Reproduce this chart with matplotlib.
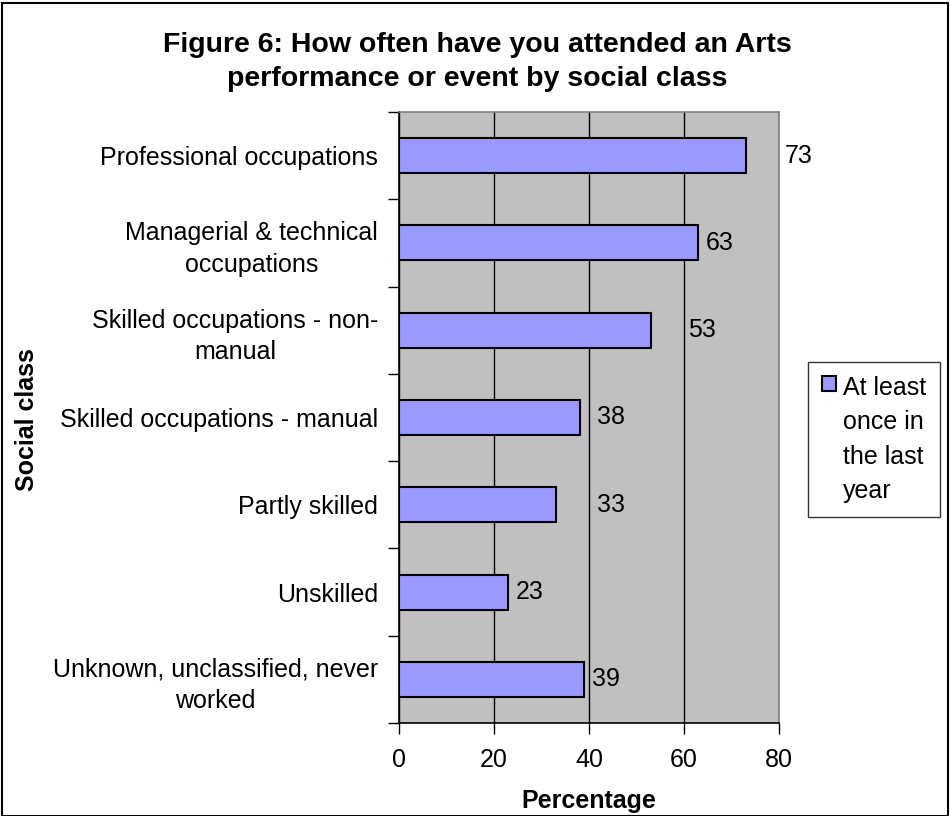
import numpy as np
import matplotlib.pyplot as plt
from matplotlib.patches import Rectangle

plt.rcParams['font.family'] = ['Liberation Sans', 'DejaVu Sans']

# data (top to bottom as shown)
categories = [
    "Professional occupations",
    "Managerial & technical\noccupations",
    "Skilled occupations - non-\nmanual",
    "Skilled occupations - manual",
    "Partly skilled",
    "Unskilled",
    "Unknown, unclassified, never\nworked",
]
values = [73, 63, 53, 38, 33, 23, 39]
series_name = "At least\nonce in\nthe last\nyear"
x_ticks = [0, 20, 40, 60, 80]

# where the value labels sit (data units), as in the original layout
label_x = [81.3, 64.6, 60.8, 41.7, 41.7, 24.6, 40.6]

FS = 18

fig = plt.figure(figsize=(9.5, 8.16), dpi=100)
ax = fig.add_axes([399/950, 1 - 723/816, 380/950, 611/816])

n = len(categories)
ypos = np.arange(n)[::-1]  # first category at top

ax.set_facecolor('#C0C0C0')
ax.barh(ypos, values, height=0.4, color='#9999FF', edgecolor='black',
        linewidth=1.5, label=series_name, zorder=3)

for y, v, lx in zip(ypos, values, label_x):
    ax.text(lx, y, str(v), va='center', ha='left', fontsize=FS, zorder=4)

ax.set_xlim(0, 80)
ax.set_ylim(-0.5, n - 0.5)
ax.set_xticks(x_ticks)
ax.set_xticklabels([str(t) for t in x_ticks], fontsize=FS)
ax.xaxis.grid(True, color='black', linewidth=1, zorder=1)
ax.set_axisbelow(True)

# category labels centred on bars, tick marks between categories
ax.set_yticks(ypos)
ax.set_yticklabels(categories, fontsize=FS, multialignment='center', linespacing=1.4)
ax.tick_params(axis='y', length=0, pad=15)
ax.set_yticks(np.arange(n + 1) - 0.5, minor=True)
ax.tick_params(axis='y', which='minor', length=8, direction='out', width=1)
ax.tick_params(axis='x', length=8, direction='out', width=1, pad=10)

for side in ['left', 'bottom']:
    ax.spines[side].set_color('black')
    ax.spines[side].set_linewidth(1.2)
for side in ['top', 'right']:
    ax.spines[side].set_color('#808080')
    ax.spines[side].set_linewidth(1.2)

ax.set_xlabel("Percentage", fontsize=FS, fontweight='bold', labelpad=12)
fig.text(27/950, 1 - 420/816, "Social class", rotation=90, fontsize=FS,
         fontweight='bold', ha='center', va='center')

fig.text(477/950, 1 - 62/816,
         "Figure 6: How often have you attended an Arts\nperformance or event by social class",
         ha='center', va='center', fontsize=20.5, fontweight='bold', linespacing=1.4)

leg = ax.legend(loc='upper left', bbox_to_anchor=(808/950, 1 - 362/816),
                bbox_transform=fig.transFigure, fontsize=FS, frameon=True,
                fancybox=False, edgecolor='black', handlelength=0.55,
                handleheight=0.55, handletextpad=0.3, borderpad=0.55,
                borderaxespad=0)
leg.get_frame().set_linewidth(1)
for t in leg.get_texts():
    t.set_linespacing(1.55)
# marker next to the first line of the label
for col in leg._legend_handle_box.get_children():
    for entry in col.get_children():
        entry.align = 'top'

# outer chart border
fig.patches.append(Rectangle((2/950, 0), 946/950, 1 - 3/816, transform=fig.transFigure,
                             fill=False, edgecolor='black', linewidth=1.5))

fig.savefig('out.png', dpi=100, facecolor='white')
